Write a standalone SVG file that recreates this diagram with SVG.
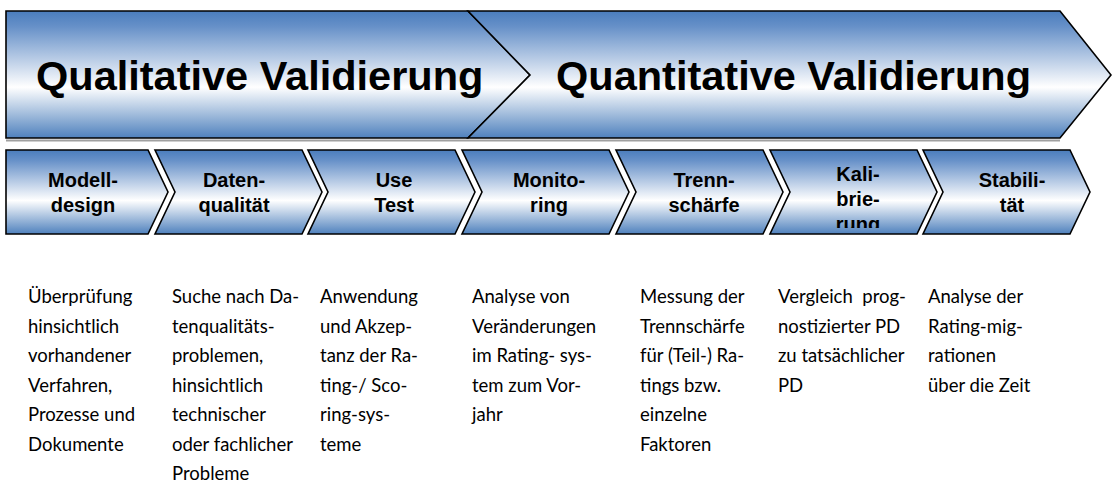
<svg xmlns="http://www.w3.org/2000/svg" width="1112" height="491" viewBox="0 0 1112 491">
<defs>
<linearGradient id="g" x1="0" y1="0" x2="0" y2="1">
<stop offset="0" stop-color="#4A7DBD"/>
<stop offset="0.12" stop-color="#6690C8"/>
<stop offset="0.6" stop-color="#FFFFFF"/>
<stop offset="1" stop-color="#4F81BD"/>
</linearGradient>
<clipPath id="kclip"><rect x="770" y="150" width="170" height="78"/></clipPath>
<style>
.sh{fill:url(#g);stroke:#000;stroke-width:1.6;stroke-linejoin:miter}
.big{font-family:"Liberation Sans",Arial,sans-serif;font-weight:bold;font-size:41.5px;fill:#000}
.lbl{font-family:"Liberation Sans",Arial,sans-serif;font-weight:bold;font-size:20px;fill:#000;text-anchor:middle}
.desc{font-family:Lato,"Open Sans",sans-serif;font-size:18.5px;fill:#000}
</style>
</defs>
<rect width="1112" height="491" fill="#fff"/>
<line x1="6" y1="140.5" x2="1060" y2="140.5" stroke="#a0a0a0" stroke-width="2"/>
<g id="qualitative">
<polygon class="sh" points="6,11 468,11 530,75 468,138 6,138"/>
<text class="big" x="36" y="90">Qualitative Validierung</text>
</g>
<g id="quantitative">
<polygon class="sh" points="468,11 1060,11 1111,75 1060,138 468,138 530,75"/>
<text class="big" x="556" y="90">Quantitative Validierung</text>
</g>
<g id="modelldesign">
<polygon class="sh" points="6,150 148,150 168,192 148,234 6,234"/>
<text class="lbl" x="83" y="187">Modell-</text><text class="lbl" x="83" y="212">design</text>
</g>
<g id="datenqualitaet">
<polygon class="sh" points="155,150 302,150 322,192 302,234 155,234 175,192"/>
<text class="lbl" x="234" y="187">Daten-</text><text class="lbl" x="234" y="212">qualität</text>
</g>
<g id="usetest">
<polygon class="sh" points="308,150 455,150 475,192 455,234 308,234 328,192"/>
<text class="lbl" x="394" y="187">Use</text><text class="lbl" x="394" y="212">Test</text>
</g>
<g id="monitoring">
<polygon class="sh" points="462,150 609,150 629,192 609,234 462,234 482,192"/>
<text class="lbl" x="549" y="187">Monito-</text><text class="lbl" x="549" y="212">ring</text>
</g>
<g id="trennschaerfe">
<polygon class="sh" points="616,150 763,150 783,192 763,234 616,234 636,192"/>
<text class="lbl" x="704" y="187">Trenn-</text><text class="lbl" x="704" y="212">schärfe</text>
</g>
<g id="kalibrierung">
<polygon class="sh" points="770,150 917,150 937,192 917,234 770,234 790,192"/>
<g clip-path="url(#kclip)">
<text class="lbl" x="858" y="181">Kali-</text><text class="lbl" x="858" y="206">brie-</text><text class="lbl" x="858" y="231">rung</text>
</g>
</g>
<g id="stabilitaet">
<polygon class="sh" points="923,150 1070,150 1090,192 1070,234 923,234 943,192"/>
<text class="lbl" x="1012" y="187">Stabili-</text><text class="lbl" x="1012" y="212">tät</text>
</g>
<g id="connectors"></g>
<g id="desc1" class="desc">
<text x="28" y="303">Überprüfung</text>
<text x="28" y="332.5">hinsichtlich</text>
<text x="28" y="362">vorhandener</text>
<text x="28" y="391.5">Verfahren,</text>
<text x="28" y="421">Prozesse und</text>
<text x="28" y="450.5">Dokumente</text>
</g>
<g id="desc2" class="desc">
<text x="172" y="303">Suche nach Da-</text>
<text x="172" y="332.5">tenqualitäts-</text>
<text x="172" y="362">problemen,</text>
<text x="172" y="391.5">hinsichtlich</text>
<text x="172" y="421">technischer</text>
<text x="172" y="450.5">oder fachlicher</text>
<text x="172" y="480">Probleme</text>
</g>
<g id="desc3" class="desc">
<text x="320" y="303">Anwendung</text>
<text x="320" y="332.5">und Akzep-</text>
<text x="320" y="362">tanz der Ra-</text>
<text x="320" y="391.5">ting-/ Sco-</text>
<text x="320" y="421">ring-sys-</text>
<text x="320" y="450.5">teme</text>
</g>
<g id="desc4" class="desc">
<text x="472" y="303">Analyse von</text>
<text x="472" y="332.5">Veränderungen</text>
<text x="472" y="362">im Rating- sys-</text>
<text x="472" y="391.5">tem zum Vor-</text>
<text x="472" y="421">jahr</text>
</g>
<g id="desc5" class="desc">
<text x="640" y="303">Messung der</text>
<text x="640" y="332.5">Trennschärfe</text>
<text x="640" y="362">für (Teil-) Ra-</text>
<text x="640" y="391.5">tings bzw.</text>
<text x="640" y="421">einzelne</text>
<text x="640" y="450.5">Faktoren</text>
</g>
<g id="desc6" class="desc">
<text x="778" y="303">Vergleich</text><text x="906" y="303" text-anchor="end">prog-</text>
<text x="778" y="332.5">nostizierter PD</text>
<text x="778" y="362">zu tatsächlicher</text>
<text x="778" y="391.5">PD</text>
</g>
<g id="desc7" class="desc">
<text x="928" y="303">Analyse der</text>
<text x="928" y="332.5">Rating-mig-</text>
<text x="928" y="362">rationen</text>
<text x="928" y="391.5">über die Zeit</text>
</g>
</svg>
